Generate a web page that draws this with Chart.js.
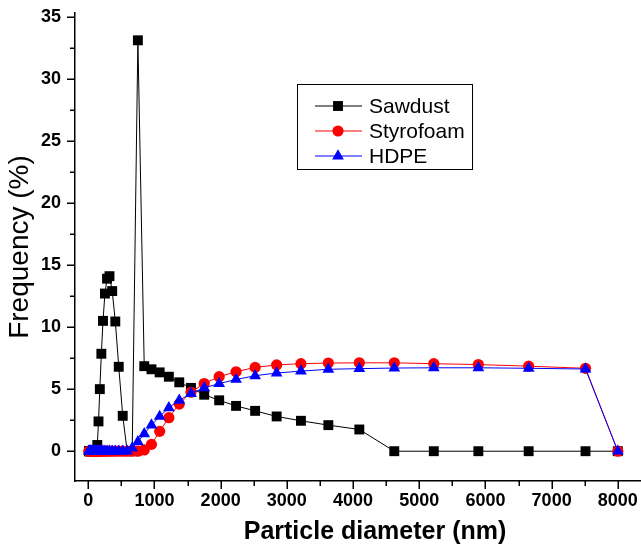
<!DOCTYPE html>
<html>
<head>
<meta charset="utf-8">
<script src="https://cdn.jsdelivr.net/npm/chart.js@4.4.1/dist/chart.umd.min.js"></script>
<style>
  body { margin: 0; background: #fff; }
  #wrap { width: 641px; height: 549px; }
</style>
</head>
<body>
<div id="wrap"><canvas id="myChart" width="641" height="549"></canvas></div>
<script>
// particle size bins (nm)
const diameters = [10, 14, 19, 25, 32, 41, 52, 59, 66, 75, 85, 96, 108, 122,
    137, 155, 175, 198, 223, 252, 284, 321, 362, 409, 461, 521,
    588, 664, 750,
    846, 955, 1079, 1218, 1375, 1552, 1752, 1978, 2233, 2521, 2846, 3213, 3627, 4095,
    4623, 5220, 5893, 6653, 7512, 8000];

// frequency (%) per bin
const sawdust = [0, 0, 0, 0, 0, 0, 0, 0, 0, 0, 0, 0, 0, 0.1,
    0.5, 2.4, 5.0, 7.85, 10.5, 12.7, 13.9, 14.1, 12.9, 10.45, 6.8, 2.85,
    0, 0, 33.1,
    6.85, 6.6, 6.35, 6.0, 5.55, 5.1, 4.55, 4.1, 3.65, 3.25, 2.8, 2.45, 2.1, 1.75,
    0, 0, 0, 0, 0, 0];

const styrofoam = [0, 0, 0, 0, 0, 0, 0, 0, 0, 0, 0, 0, 0, 0,
    0, 0, 0, 0, 0, 0, 0, 0, 0, 0, 0, 0,
    0, 0, 0,
    0.1, 0.55, 1.6, 2.7, 3.8, 4.75, 5.45, 6.0, 6.4, 6.75, 6.95, 7.05, 7.1, 7.12,
    7.12, 7.05, 6.98, 6.85, 6.68, 0];

const hdpe = [0, 0, 0, 0, 0, 0, 0, 0, 0, 0, 0, 0, 0, 0,
    0, 0, 0, 0, 0, 0, 0, 0, 0, 0, 0, 0,
    0, 0.25, 0.75,
    1.4, 2.1, 2.8, 3.5, 4.1, 4.65, 5.1, 5.45, 5.78, 6.08, 6.3, 6.45, 6.6, 6.65,
    6.7, 6.72, 6.72, 6.68, 6.62, 0];

const xTicks = [0, 1000, 2000, 3000, 4000, 5000, 6000, 7000, 8000];
const yTicks = [0, 5, 10, 15, 20, 25, 30, 35];
const xTitle = 'Particle diameter (nm)';

const FONT = "'Liberation Sans', Arial, sans-serif";

function toPoints(vals) {
    return diameters.map(function(d, i) { return {x: d, y: vals[i]}; });
}

// draws a marker like the ones on the chart
function marker(ctx, style, x, y, r, color) {
    ctx.fillStyle = color;
    ctx.beginPath();
    if (style == 'rect') {
        const s = r * Math.SQRT1_2;
        ctx.rect(x - s, y - s, 2 * s, 2 * s);
    } else if (style == 'circle') {
        ctx.arc(x, y, r, 0, Math.PI * 2);
    } else {
        ctx.moveTo(x, y - r);
        ctx.lineTo(x + r * 0.866, y + r * 0.5);
        ctx.lineTo(x - r * 0.866, y + r * 0.5);
        ctx.closePath();
    }
    ctx.fill();
}

const tickMarks = {
    id: 'tickMarks',
    afterDraw(chart) {
        const ctx = chart.ctx;
        const xs = chart.scales.x, ys = chart.scales.y;
        ctx.save();
        ctx.strokeStyle = '#000';
        ctx.lineWidth = 1.5;
        ctx.beginPath();
        xTicks.forEach(function(v) {
            const px = Math.round(xs.getPixelForValue(v)) + 0.25;
            ctx.moveTo(px, xs.top); ctx.lineTo(px, xs.top + 8);
            const pm = Math.round(xs.getPixelForValue(v + 500)) + 0.25;
            if (v + 500 < xs.max) { ctx.moveTo(pm, xs.top); ctx.lineTo(pm, xs.top + 5); }
        });
        yTicks.forEach(function(v) {
            const py = Math.round(ys.getPixelForValue(v)) + 0.25;
            ctx.moveTo(ys.right, py); ctx.lineTo(ys.right - 8, py);
            if (v + 2.5 < ys.max) {
                const pm = Math.round(ys.getPixelForValue(v + 2.5)) + 0.25;
                ctx.moveTo(ys.right, pm); ctx.lineTo(ys.right - 5, pm);
            }
        });
        ctx.stroke();
        // x axis title, centred on the full (cropped) axis of the original plot
        ctx.fillStyle = '#000';
        ctx.font = 'bold 25px ' + FONT;
        ctx.textAlign = 'center';
        ctx.textBaseline = 'middle';
        ctx.fillText(xTitle, 375, 532);
        ctx.restore();
    }
};

const boxLegend = {
    id: 'boxLegend',
    afterDraw(chart) {
        const ctx = chart.ctx;
        ctx.save();
        ctx.strokeStyle = '#000';
        ctx.lineWidth = 1;
        ctx.strokeRect(297.5, 84.5, 175, 85);
        ctx.font = '21px ' + FONT;
        ctx.textBaseline = 'middle';
        chart.data.datasets.forEach(function(ds, i) {
            const y = 106 + i * 25;
            ctx.strokeStyle = ds.borderColor;
            ctx.lineWidth = 1;
            ctx.beginPath();
            ctx.moveTo(315, y); ctx.lineTo(362, y);
            ctx.stroke();
            marker(ctx, ds.pointStyle, 338, y, ds.pointRadius, ds.backgroundColor);
            ctx.fillStyle = '#000';
            ctx.fillText(ds.label, 369, y + 1);
        });
        ctx.restore();
    }
};

const data = {
    datasets: [{
        label: 'Sawdust',
        data: toPoints(sawdust),
        borderColor: '#000000',
        backgroundColor: '#000000',
        borderWidth: 1,
        pointStyle: 'rect',
        pointRadius: 7,
        pointBorderWidth: 0,
        order: 3
    },
    {
        label: 'Styrofoam',
        data: toPoints(styrofoam),
        borderColor: '#ff0000',
        backgroundColor: '#ff0000',
        borderWidth: 1,
        pointStyle: 'circle',
        pointRadius: 5.6,
        pointBorderWidth: 0,
        order: 2
    },
    {
        label: 'HDPE',
        data: toPoints(hdpe),
        borderColor: '#0000ff',
        backgroundColor: '#0000ff',
        borderWidth: 1,
        pointStyle: 'triangle',
        pointRadius: 6.8,
        pointBorderWidth: 0,
        order: 1
    }]
};

const config = {
    type: 'line',
    data: data,
    plugins: [tickMarks, boxLegend],
    options: {
        responsive: false,
        animation: false,
        layout: { autoPadding: false, padding: { top: 13, right: 0, left: 0, bottom: 0 } },
        plugins: {
            legend: { display: false },
            tooltip: { enabled: false }
        },
        elements: { line: { tension: 0 } },
        scales: {
            x: {
                type: 'linear',
                min: -200,
                max: 8350,
                afterFit: function(s) { s.height = 68; s.paddingLeft = 0; s.paddingRight = 0; },
                afterBuildTicks: function(s) { s.ticks = xTicks.map(function(v) { return {value: v}; }); },
                grid: { display: true, drawOnChartArea: false, drawTicks: false },
                border: { display: true, color: '#000', width: 1.5 },
                ticks: {
                    padding: 9,
                    color: '#000',
                    maxRotation: 0,
                    autoSkip: false,
                    font: { family: FONT, size: 18, weight: 'bold' },
                    callback: function(v) { return String(v); }
                }
            },
            y: {
                type: 'linear',
                min: -2.4,
                max: 35.3,
                afterFit: function(s) { s.width = 75; s.paddingTop = 0; s.paddingBottom = 0; },
                afterBuildTicks: function(s) { s.ticks = yTicks.map(function(v) { return {value: v}; }); },
                grid: { display: true, drawOnChartArea: false, drawTicks: false },
                border: { display: true, color: '#000', width: 1.5 },
                ticks: {
                    padding: 14,
                    color: '#000',
                    font: { family: FONT, size: 18, weight: 'bold' },
                    callback: function(v) { return String(v); }
                },
                title: {
                    display: true,
                    text: 'Frequency (%)',
                    color: '#000',
                    font: { family: FONT, size: 28 },
                    padding: { top: 3, bottom: 0 }
                }
            }
        }
    }
};

const myChart = new Chart(document.getElementById('myChart'), config);
</script>
</body>
</html>
